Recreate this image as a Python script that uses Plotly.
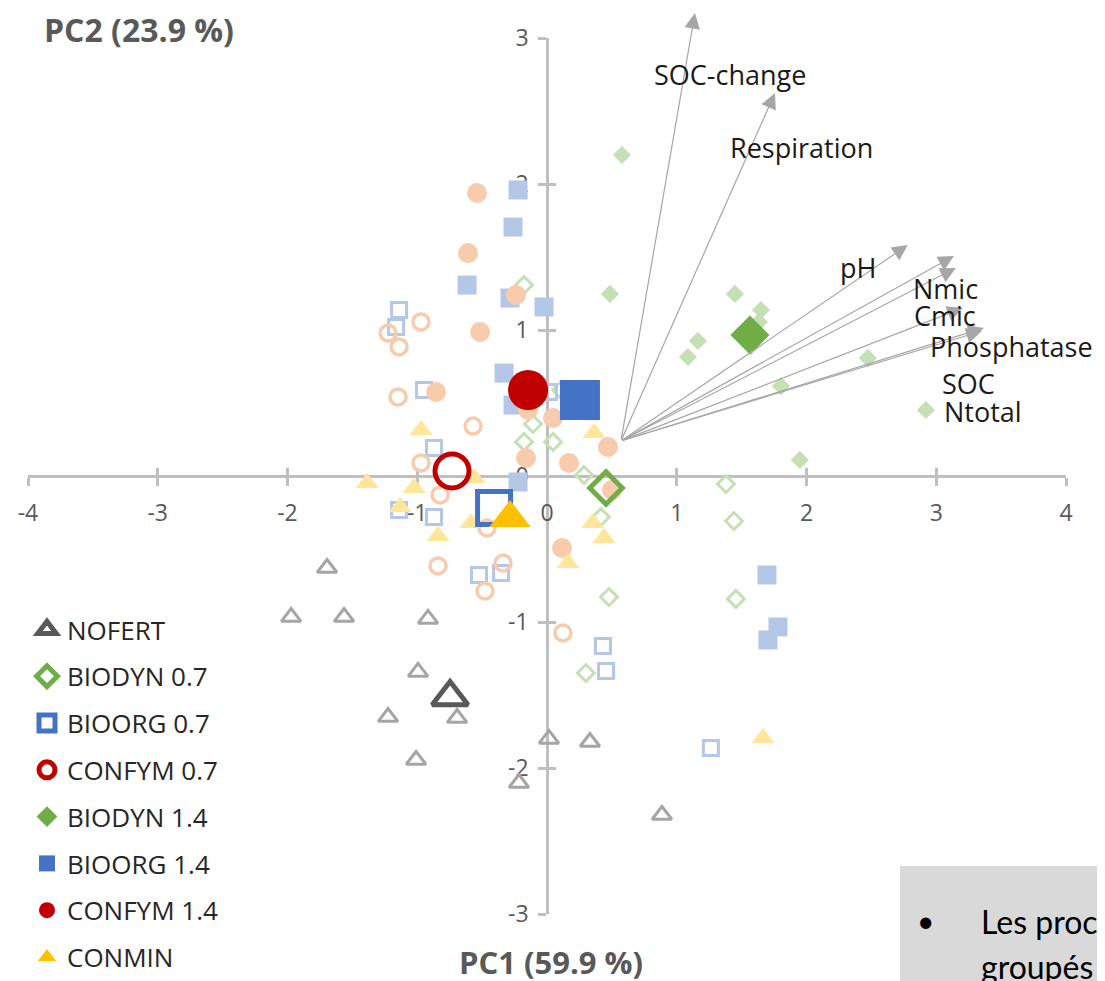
import plotly.graph_objects as go

# ---------------- data ----------------
treatments = ["NOFERT", "BIODYN 0.7", "BIOORG 0.7", "CONFYM 0.7",
              "BIODYN 1.4", "BIOORG 1.4", "CONFYM 1.4", "CONMIN"]

nofert_x = [-1.695, -1.972, -1.564, -0.917, -0.994, -1.225, -0.693, -1.009, 0.015, 0.331, -0.216, 0.886]
nofert_y = [-0.630, -0.966, -0.966, -0.979, -1.342, -1.651, -1.658, -1.945, -1.801, -1.822, -2.103, -2.322]

biodyn07_x = [-0.177, -0.108, -0.177, 0.046, 0.285, 0.416, 0.478, 1.379, 1.441, 1.456, 0.300, 0.108]
biodyn07_y = [1.308, 0.356, 0.233, 0.233, 0.007, -0.281, -0.829, -0.055, -0.308, -0.842, -1.349, 0.589]

bioorg07_x = [-1.140, -1.163, -0.948, -0.871, 0.015, -1.140, -0.871, -0.524, -0.354, 0.431, 0.455, 1.263]
bioorg07_y = [1.137, 1.021, 0.589, 0.192, 0.575, -0.233, -0.281, -0.678, -0.664, -1.164, -1.336, -1.863]

confym07_x = [-0.971, -1.225, -1.140, -1.148, -0.570, -0.971, -0.824, -0.840, -0.339, -0.478, 0.123, -0.462]
confym07_y = [1.055, 0.979, 0.884, 0.541, 0.342, 0.089, -0.130, -0.616, -0.596, -0.788, -1.075, -0.356]

biodyn14_x = [0.578, 0.485, 1.448, 1.649, 1.163, 1.086, 2.473, 1.803, 2.920, 1.949, 1.572, 1.633]
biodyn14_y = [2.199, 1.247, 1.247, 1.137, 0.925, 0.815, 0.808, 0.616, 0.452, 0.110, 0.890, 1.055]

bioorg14_x = [-0.223, -0.262, -0.616, -0.285, -0.023, -0.331, -0.262, -0.223, 1.695, 1.780, 1.703, -0.085]
bioorg14_y = [1.959, 1.705, 1.308, 1.219, 1.158, 0.705, 0.486, -0.041, -0.678, -1.034, -1.123, 0.603]

confym14_x = [-0.539, -0.609, -0.239, -0.516, -0.855, -0.146, 0.046, -0.162, 0.169, 0.470, 0.116, 0.501]
confym14_y = [1.938, 1.527, 1.240, 0.986, 0.575, 0.452, 0.397, 0.123, 0.089, 0.199, -0.493, -0.096]

conmin_x = [-1.387, -0.971, -1.025, -1.133, -0.840, -0.562, -0.586, 0.362, 0.354, 0.439, 0.162, 1.664]
conmin_y = [-0.048, 0.315, -0.082, -0.212, -0.411, -0.014, -0.322, 0.295, -0.322, -0.425, -0.596, -1.795]

centroid_x = [-0.747, 0.455, -0.408, -0.732, 1.564, 0.254, -0.146, -0.285]
centroid_y = [-1.514, -0.082, -0.219, 0.034, 0.966, 0.521, 0.589, -0.288]

loading_names = ["SOC-change", "Respiration", "pH", "Nmic", "Cmic", "Phosphatase", "SOC", "Ntotal"]
loading_x = [1.140, 1.757, 2.781, 3.136, 3.151, 3.205, 3.367, 3.351]
loading_y = [3.171, 2.623, 1.582, 1.507, 1.425, 1.151, 1.014, 0.993]
loading_origin_x = 0.570
loading_origin_y = 0.240
label_x = [1.410, 1.965, 2.396, 3.074, 3.066, 3.582, 3.251, 3.359]
label_y = [2.747, 2.247, 1.425, 1.281, 1.096, 0.884, 0.637, 0.445]

x_tick_vals = [-4, -3, -2, -1, 0, 1, 2, 3, 4]
x_tick_text = ["-4", "-3", "-2", "-1", "0", "1", "2", "3", "4"]
y_tick_vals = [-3, -2, -1, 0, 1, 2, 3]
y_tick_text = ["-3", "-2", "-1", "0", "1", "2", "3"]

x_title = "PC1 (59.9 %)"
y_title = "PC2 (23.9 %)"
box_line1 = "Les proc"
box_line2 = "groupés"

# ---------------- styles / layout geometry ----------------
FONT = "Open Sans"
GREY_TXT = "#595959"
AX = "#BFBFBF"
OFF = 8                      # default page body margin
W, H = 1105 - OFF, 981 - OFF
PL, PT = 28, 38              # plot area top-left on the page
PW, PH = 1038, 876           # plot area size
ML, MT = PL - OFF, PT - OFF
MR, MB = W - ML - PW, H - MT - PH


def px_to_paper(px, py):
    """page pixel -> paper fraction"""
    return (px - PL) / PW, (PT + PH - py) / PH


replicates = [
    (nofert_x, nofert_y, "triangle-up-open", "#A5A5A5", 17, 3),
    (biodyn07_x, biodyn07_y, "diamond-open", "#C5E0B4", 13, 3),
    (bioorg07_x, bioorg07_y, "square-open", "#B4C7E7", 15, 3),
    (confym07_x, confym07_y, "circle-open", "#F8CBAD", 16, 3.5),
    (biodyn14_x, biodyn14_y, "diamond", "#C5E0B4", 14, 0),
    (bioorg14_x, bioorg14_y, "square", "#B4C7E7", 19, 0),
    (confym14_x, confym14_y, "circle", "#F8CBAD", 20, 0),
    (conmin_x, conmin_y, "triangle-up", "#FFE699", 20, 0),
]
centroid_style = [
    ("triangle-up-open", "#595959", 31, 5),
    ("diamond-open", "#70AD47", 25, 5),
    ("square-open", "#4472C4", 33, 5),
    ("circle-open", "#C00000", 34, 5),
    ("diamond", "#70AD47", 30, 0),
    ("square", "#4472C4", 40, 0),
    ("circle", "#C00000", 40, 0),
    ("triangle-up", "#FFC000", 36, 0),
]

fig = go.Figure()

for name, (xs, ys, sym, col, size, lw) in zip(treatments, replicates):
    fig.add_trace(go.Scatter(
        x=xs, y=ys, mode="markers", name=name, legendgroup=name, showlegend=False,
        marker=dict(symbol=sym, color=col, size=size, line=dict(width=lw, color=col)),
        hoverinfo="skip"))

for i, (name, (sym, col, size, lw)) in enumerate(zip(treatments, centroid_style)):
    fig.add_trace(go.Scatter(
        x=[centroid_x[i]], y=[centroid_y[i]], mode="markers", name=name,
        legendgroup=name, legendrank=i + 1, showlegend=True,
        xaxis="x2", yaxis="y2",
        marker=dict(symbol=sym, color=col, size=size, line=dict(width=lw, color=col))))

annotations = []
for nm, tx, ty in zip(loading_names, loading_x, loading_y):
    annotations.append(dict(
        x=tx, y=ty, xref="x", yref="y", ax=loading_origin_x, ay=loading_origin_y,
        axref="x", ayref="y", text="", showarrow=True, arrowhead=2, arrowsize=2.6,
        arrowwidth=1.2, arrowcolor="#A6A6A6", standoff=0, startstandoff=0))
for nm, lx, ly in zip(loading_names, label_x, label_y):
    annotations.append(dict(
        x=lx, y=ly, xref="x", yref="y", text=nm, showarrow=False,
        xanchor="center", yanchor="middle",
        font=dict(family=FONT, size=27, color="#1A1A1A")))

tx, ty = px_to_paper(42, 30)
annotations.append(dict(x=tx, y=ty, xref="paper", yref="paper", text="<b>%s</b>" % y_title,
                        showarrow=False, xanchor="left", yanchor="middle",
                        font=dict(family=FONT, size=32, color=GREY_TXT)))
tx, ty = px_to_paper(551, 962)
annotations.append(dict(x=tx, y=ty, xref="paper", yref="paper", text="<b>%s</b>" % x_title,
                        showarrow=False, xanchor="center", yanchor="middle",
                        font=dict(family=FONT, size=31, color=GREY_TXT)))

# text box bottom-right
bx0, by1 = px_to_paper(900, 866)
bx1, by0 = px_to_paper(1120, 1000)
bxa, bya = px_to_paper(925, 920)
annotations.append(dict(x=bxa, y=bya, xref="paper", yref="paper", text="•", showarrow=False,
                        xanchor="center", yanchor="middle",
                        font=dict(family="Lato", size=30, color="#000000")))
t1x, t1y = px_to_paper(979, 921)
annotations.append(dict(x=t1x, y=t1y, xref="paper", yref="paper", text=box_line1, showarrow=False,
                        xanchor="left", yanchor="middle",
                        font=dict(family="Lato", size=32, color="#000000")))
t2x, t2y = px_to_paper(979, 966)
annotations.append(dict(x=t2x, y=t2y, xref="paper", yref="paper", text=box_line2, showarrow=False,
                        xanchor="left", yanchor="middle",
                        font=dict(family="Lato", size=32, color="#000000")))

axis_common = dict(showgrid=False, zeroline=False, fixedrange=True, automargin=False)
tickfont = dict(family=FONT, size=23, color=GREY_TXT)

lx, ly = px_to_paper(27, 606)

fig.update_layout(
    template="none",
    width=W, height=H,
    margin=dict(l=ML, r=MR, t=MT, b=MB, pad=0, autoexpand=False),
    paper_bgcolor="white", plot_bgcolor="white",
    showlegend=True,
    legend=dict(x=lx, y=ly, xanchor="left", yanchor="top", traceorder="grouped",
                tracegroupgap=10, bgcolor="rgba(0,0,0,0)", borderwidth=0,
                font=dict(family=FONT, size=26, color="#262626")),
    xaxis=dict(range=[-4, 4], anchor="free", position=0.5, showline=True, linecolor=AX,
               linewidth=2.5, ticks="outside", ticklen=8, tickwidth=2.5, tickcolor=AX,
               tickvals=x_tick_vals, ticktext=x_tick_text, tickfont=tickfont,
               ticklabelstandoff=8, layer="below traces", **axis_common),
    yaxis=dict(range=[-3, 3], anchor="free", position=0.5, showline=True, linecolor=AX,
               linewidth=2.5, ticks="outside", ticklen=8, tickwidth=2.5, tickcolor=AX,
               tickvals=y_tick_vals, ticktext=y_tick_text, tickfont=tickfont,
               ticklabelstandoff=5, layer="below traces", **axis_common),
    xaxis2=dict(range=[-4, 4], overlaying="x", anchor="free", position=0.5, showline=False,
                ticks="inside", ticklen=8, tickwidth=2.5, tickcolor=AX,
                tickvals=x_tick_vals, showticklabels=False, layer="below traces", **axis_common),
    yaxis2=dict(range=[-3, 3], overlaying="y", anchor="free", position=0.5, showline=False,
                ticks="inside", ticklen=8, tickwidth=2.5, tickcolor=AX,
                tickvals=y_tick_vals, showticklabels=False, layer="below traces", **axis_common),
    annotations=annotations,
    shapes=[dict(type="rect", xref="paper", yref="paper", x0=bx0, x1=bx1, y0=by0, y1=by1,
                 fillcolor="#D9D9D9", line=dict(width=0), layer="below")],
)

fig.write_html("out.html")
